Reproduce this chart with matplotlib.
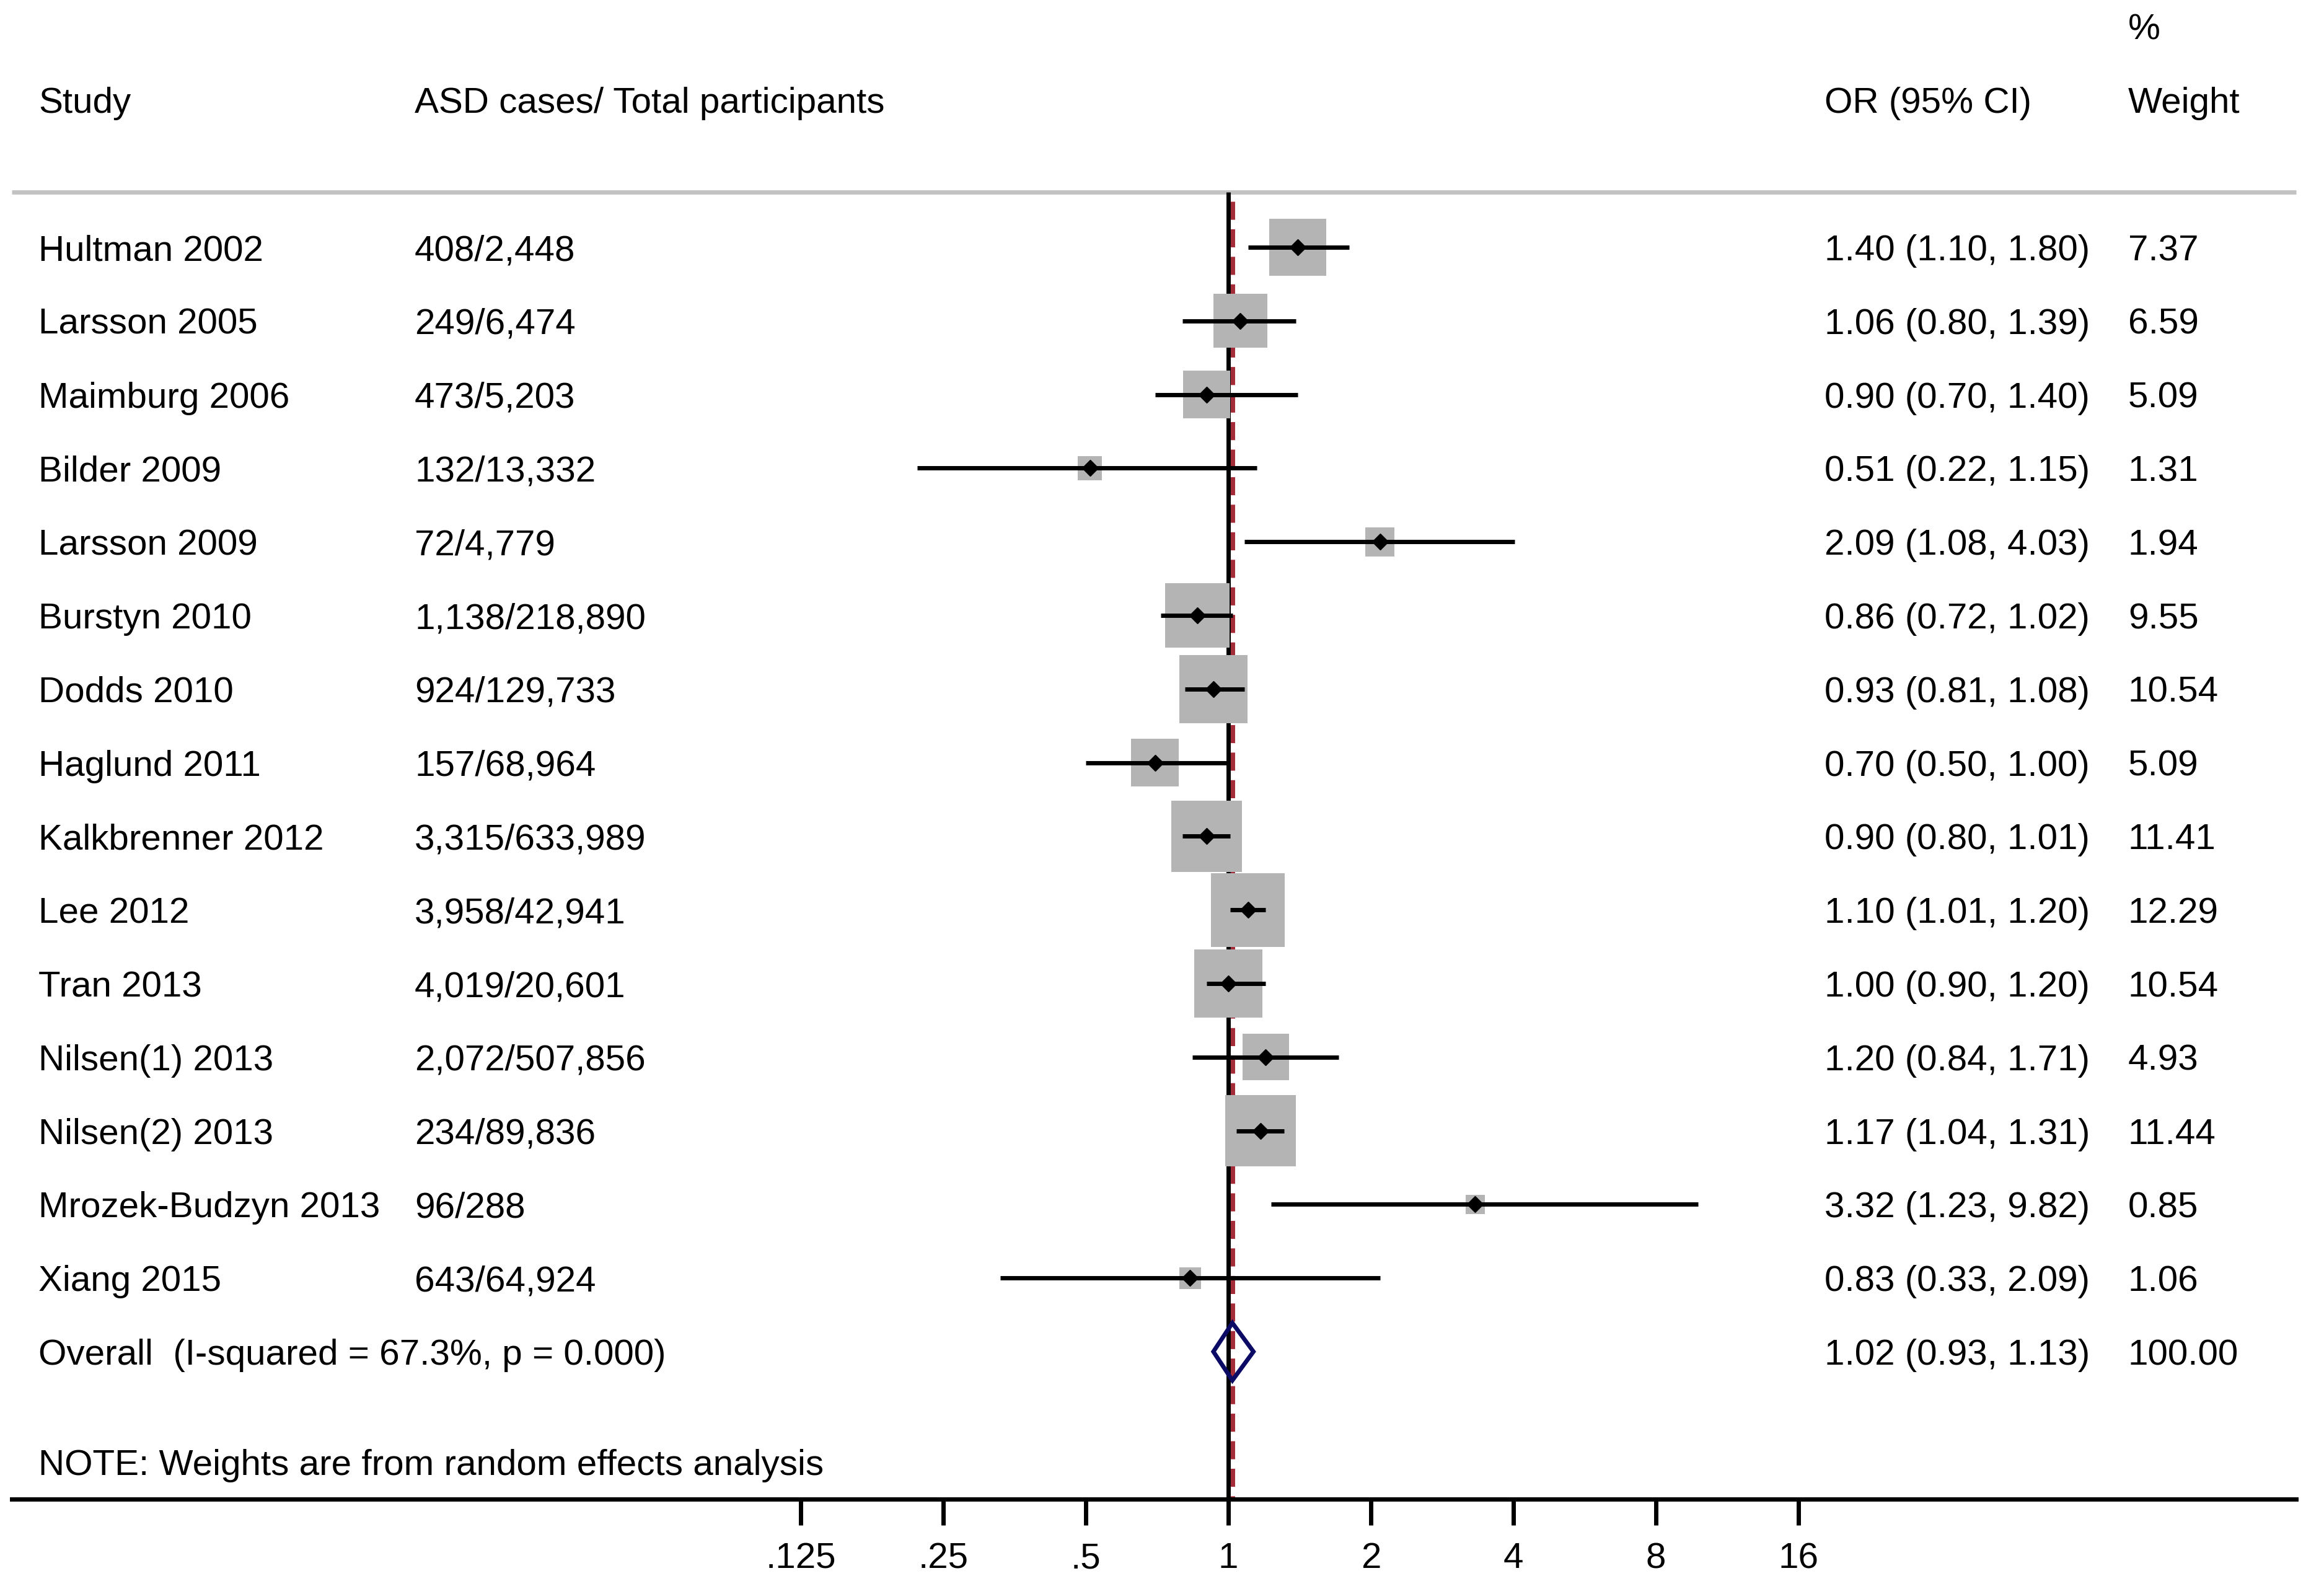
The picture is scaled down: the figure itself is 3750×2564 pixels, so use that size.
import numpy as np
import matplotlib
matplotlib.use('Agg')
import matplotlib.pyplot as plt
from matplotlib.patches import Polygon

# data
studies = ["Hultman 2002", "Larsson 2005", "Maimburg 2006", "Bilder 2009", "Larsson 2009",
           "Burstyn 2010", "Dodds 2010", "Haglund 2011", "Kalkbrenner 2012", "Lee 2012",
           "Tran 2013", "Nilsen(1) 2013", "Nilsen(2) 2013", "Mrozek-Budzyn 2013", "Xiang 2015"]
cases = ["408/2,448", "249/6,474", "473/5,203", "132/13,332", "72/4,779",
         "1,138/218,890", "924/129,733", "157/68,964", "3,315/633,989", "3,958/42,941",
         "4,019/20,601", "2,072/507,856", "234/89,836", "96/288", "643/64,924"]
odds = [1.40, 1.06, 0.90, 0.51, 2.09, 0.86, 0.93, 0.70, 0.90, 1.10, 1.00, 1.20, 1.17, 3.32, 0.83]
lower = [1.10, 0.80, 0.70, 0.22, 1.08, 0.72, 0.81, 0.50, 0.80, 1.01, 0.90, 0.84, 1.04, 1.23, 0.33]
upper = [1.80, 1.39, 1.40, 1.15, 4.03, 1.02, 1.08, 1.00, 1.01, 1.20, 1.20, 1.71, 1.31, 9.82, 2.09]
weights = [7.37, 6.59, 5.09, 1.31, 1.94, 9.55, 10.54, 5.09, 11.41, 12.29, 10.54, 4.93, 11.44, 0.85, 1.06]

overall_label = "Overall  (I-squared = 67.3%, p = 0.000)"
overall_or, overall_lo, overall_hi = 1.02, 0.93, 1.13
note = "NOTE: Weights are from random effects analysis"

tick_vals = [0.125, 0.25, 0.5, 1, 2, 4, 8, 16]
tick_labels = [".125", ".25", ".5", "1", "2", "4", "8", "16"]

plt.rcParams['font.family'] = ['Liberation Sans', 'DejaVu Sans']
FS = 42

W, H = 3750, 2564
fig = plt.figure(figsize=(W / 100, H / 100), dpi=100)
ax = fig.add_axes([0, 0, 1, 1])
ax.set_xscale('log', base=2)

# pixel layout of the original (x=1 at 1982px, 230px per doubling, rows 118.8px apart)
X_ONE, PER_DOUBLING = 1982, 230
ROW0, ROW_H = 399, 118.8


def px_to_x(px):
    return 2 ** ((px - X_ONE) / PER_DOUBLING)


ax.set_xlim(px_to_x(0), px_to_x(W))
ax.set_ylim((H - ROW0) / ROW_H, -ROW0 / ROW_H)

rows = np.arange(len(studies))
overall_row = len(studies)
note_row = overall_row + 1.5
axis_row = overall_row + 2
x_left, x_right = px_to_x(19), px_to_x(3705)

# header rule
ax.plot([x_left, x_right], [-0.75, -0.75], color='#c3c3c3', lw=5, solid_capstyle='butt', zorder=1)

# null line and overall-effect line
ax.plot([1, 1], [-0.75, axis_row], color='black', lw=5, solid_capstyle='butt', zorder=1)
ax.plot([overall_or, overall_or], [-0.62, axis_row], color='#a42b38', lw=5,
        dashes=(4.2, 2.2), solid_capstyle='butt', zorder=2)

# weight squares, confidence intervals, point estimates
ax.scatter(odds, rows, s=np.array(weights) * 595, marker='s', color='#b4b4b4',
           linewidths=0, zorder=3)
ax.hlines(rows, lower, upper, color='black', lw=5, zorder=4)
ax.plot(odds, rows, 'D', color='black', markersize=13, zorder=5)

# overall diamond
dh = 0.39
diamond = Polygon([(overall_lo, overall_row), (overall_or, overall_row - dh),
                   (overall_hi, overall_row), (overall_or, overall_row + dh)],
                  closed=True, fill=False, edgecolor='#0b0b66', lw=5, zorder=2.5)
ax.add_patch(diamond)

# x axis
for side in ['top', 'left', 'right']:
    ax.spines[side].set_visible(False)
ax.spines['bottom'].set_position(('data', axis_row))
ax.spines['bottom'].set_bounds(x_left, x_right)
ax.spines['bottom'].set_linewidth(5)
ax.set_xticks(tick_vals)
ax.set_xticklabels(tick_labels)
ax.xaxis.set_minor_locator(matplotlib.ticker.NullLocator())
ax.tick_params(axis='x', length=0, pad=50, labelsize=FS)
ax.vlines(tick_vals, axis_row, axis_row + 0.36, color='black', lw=5, zorder=6)
ax.set_yticks([])

# text columns
tr = ax.get_yaxis_transform()
cols = [62 / W, 669 / W, 2944 / W, 3434 / W]
off = 0.177  # baseline below row centre


def put(col, row, s):
    ax.text(cols[col], row + off, s, transform=tr, fontsize=FS, va='baseline', ha='left')


put(0, -2, "Study")
put(1, -2, "ASD cases/ Total participants")
put(2, -2, "OR (95% CI)")
put(3, -3, "%")
put(3, -2, "Weight")

for i in rows:
    put(0, i, studies[i])
    put(1, i, cases[i])
    put(2, i, f"{odds[i]:.2f} ({lower[i]:.2f}, {upper[i]:.2f})")
    put(3, i, f"{weights[i]:.2f}")

put(0, overall_row, overall_label)
put(2, overall_row, f"{overall_or:.2f} ({overall_lo:.2f}, {overall_hi:.2f})")
put(3, overall_row, "100.00")
put(0, note_row, note)

fig.savefig('out.png', dpi=100)
